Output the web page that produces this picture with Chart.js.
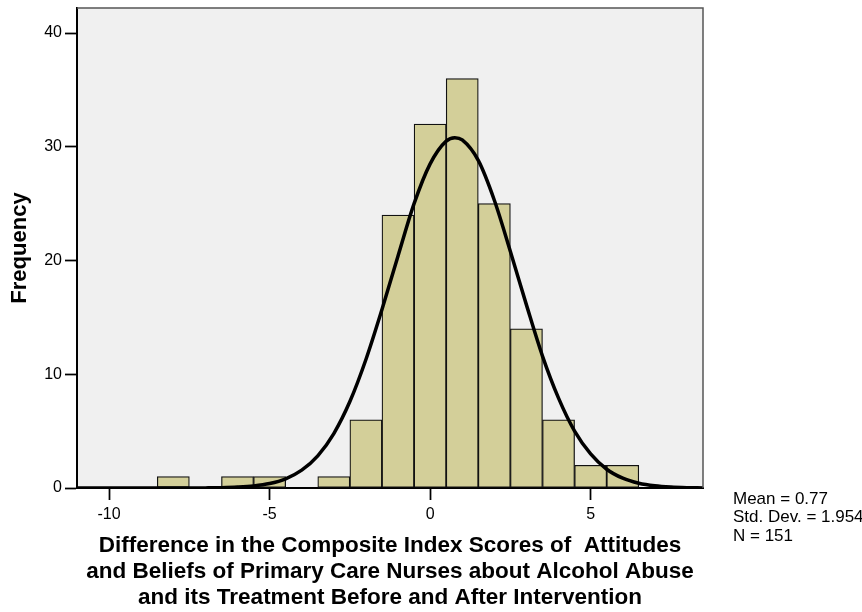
<!DOCTYPE html>
<html>
<head>
<meta charset="utf-8">
<script src="https://cdn.jsdelivr.net/npm/chart.js@4.4.1/dist/chart.umd.min.js"></script>
<style>
  body { margin: 0; background: #fff; }
  canvas { display: block; }
</style>
</head>
<body>
<canvas id="canvas" width="862" height="612"></canvas>
<script>
// histogram bins (centre of each bin, width 1) and their counts
let binCenters = [-8, -7, -6, -5, -4, -3, -2, -1, 0, 1, 2, 3, 4, 5, 6];
let binCounts  = [ 1,  0,  1,  1,  0,  1,  6, 24, 32, 36, 25, 14, 6, 2, 2];

// normal curve over the histogram
let curveX = [-11, -10, -9, -8, -7.5, -7, -6.5, -6, -5.5, -5, -4.5, -4, -3.5, -3, -2.5, -2, -1.5, -1, -0.5,
              0, 0.5, 0.77, 1, 1.5, 2, 2.5, 3, 3.5, 4, 4.5, 5, 5.5, 6, 6.5, 7, 7.5, 8, 8.5];
let curveY = [0, 0, 0, 0, 0, 0.01, 0.03, 0.08, 0.18, 0.39, 0.81, 1.57, 2.83, 4.79, 7.6, 11.3, 15.7, 20.4, 25.0,
              28.5, 30.5, 30.8, 30.6, 28.8, 25.3, 20.8, 16.1, 11.6, 7.9, 5.0, 3.0, 1.65, 0.86, 0.42, 0.19, 0.08, 0.03, 0.01];

let xTicks = [-10, -5, 0, 5];
let yTicks = [0, 10, 20, 30, 40];

let xTitle = ['Difference in the Composite Index Scores of  Attitudes',
              'and Beliefs of Primary Care Nurses about Alcohol Abuse',
              'and its Treatment Before and After Intervention'];
let yTitle = 'Frequency';
let statLines = ['Mean = 0.77', 'Std. Dev. = 1.954', 'N = 151'];

const FONT = '"Liberation Sans", Arial, Helvetica, sans-serif';

// grey plot background plus the thin frame on top and right
const frame = {
  id: 'frame',
  beforeDraw(chart) {
    const {ctx, chartArea: a} = chart;
    ctx.save();
    ctx.fillStyle = '#f0f0f0';
    ctx.fillRect(a.left, a.top, a.right - a.left, a.bottom - a.top);
    ctx.restore();
  },
  afterDraw(chart) {
    const {ctx, chartArea: a} = chart;
    ctx.save();
    ctx.strokeStyle = '#555';
    ctx.lineWidth = 1.5;
    ctx.beginPath();
    ctx.moveTo(a.left, a.top);
    ctx.lineTo(a.right, a.top);
    ctx.lineTo(a.right, a.bottom);
    ctx.stroke();

    // summary statistics under the right side
    ctx.fillStyle = '#000';
    ctx.font = '17px ' + FONT;
    ctx.textAlign = 'left';
    ctx.textBaseline = 'alphabetic';
    statLines.forEach((s, i) => ctx.fillText(s, 733, 504 + i * 18.4));
    ctx.restore();
  }
};

window.onload = function(){
  var ctx = document.getElementById('canvas');
  new Chart(ctx, {
    type: 'bar',
    data: {
      datasets: [{
        type: 'line',
        data: curveX.map((x, i) => ({x: x, y: curveY[i]})),
        borderColor: '#000',
        borderWidth: 3.5,
        pointRadius: 0,
        fill: false,
        cubicInterpolationMode: 'monotone',
        order: 0
      }, {
        type: 'bar',
        data: binCenters.map((x, i) => ({x: x, y: binCounts[i]})),
        backgroundColor: '#d3cf99',
        borderColor: '#111',
        borderWidth: 1.25,
        borderSkipped: false,
        barPercentage: 1,
        categoryPercentage: 1,
        order: 1
      }]
    },
    options: {
      responsive: false,
      animation: false,
      layout: { padding: { top: 8, right: 159, left: 0, bottom: 0 } },
      plugins: { legend: { display: false }, tooltip: { enabled: false } },
      scales: {
        x: {
          type: 'linear',
          min: -11,
          max: 8.5,
          offset: false,
          afterBuildTicks: s => { s.ticks = xTicks.map(v => ({value: v})); },
          afterFit: s => { s.height = 124; s.paddingLeft = 0; s.paddingRight = 0; },
          grid: { offset: false, drawOnChartArea: false, drawTicks: true, tickLength: 12, tickColor: '#000', tickWidth: 1.75 },
          border: { display: true, color: '#000', width: 2 },
          ticks: { color: '#000', padding: 5, font: { family: FONT, size: 16 }, callback: v => String(v) },
          title: {
            display: true,
            text: xTitle,
            color: '#000',
            font: { family: FONT, size: 22.5, weight: 'bold', lineHeight: 1.156 },
            padding: { top: 0, bottom: 1 }
          }
        },
        y: {
          min: 0,
          max: 42.2,
          afterBuildTicks: s => { s.ticks = yTicks.map(v => ({value: v})); },
          afterFit: s => { s.width = 77; s.paddingTop = 0; s.paddingBottom = 0; },
          grid: { drawOnChartArea: false, drawTicks: true, tickLength: 12, tickColor: '#000', tickWidth: 1.75 },
          border: { display: true, color: '#000', width: 2 },
          ticks: { color: '#000', padding: 3, font: { family: FONT, size: 16 }, callback: v => String(v) },
          title: {
            display: true,
            text: yTitle,
            color: '#000',
            font: { family: FONT, size: 22, weight: 'bold', lineHeight: 1.2 },
            padding: { top: 6.5, bottom: 0 }
          }
        }
      }
    },
    plugins: [frame]
  });
};
</script>
</body>
</html>
